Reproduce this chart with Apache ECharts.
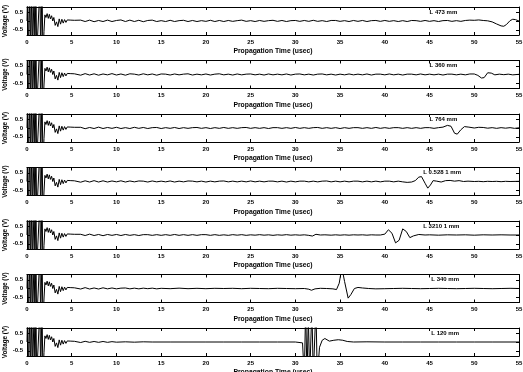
<!DOCTYPE html>
<html>
<head>
<meta charset="utf-8">
<script src="https://cdn.jsdelivr.net/npm/echarts@6/dist/echarts.min.js"></script>
<style>
html,body{margin:0;padding:0;background:#fff;}
#chart{width:523px;height:372px;}
</style>
</head>
<body>
<div id="chart"></div>
<script>
// Axis ticks and labels
const timeTicks = [0, 5, 10, 15, 20, 25, 30, 35, 40, 45, 50, 55];
const voltTicks = [-0.5, 0, 0.5];
const panelNotes = ['L 473 mm', 'L 360 mm', 'L 764 mm', 'L 0.528 1 mm', 'L 3210 1 mm', 'L 340 mm', 'L 120 mm'];

// Excitation burst recorded at the start of every trace (clipped by the plot box)
const burst = [[0,0],[0.08,2],[0.16,-2],[0.33,2],[0.4,-2],[0.55,2],[0.62,-2],[0.8,2],[0.88,-2],[1.0,2],[1.08,-2],
  [1.45,2],[1.52,-2],[1.68,2],[1.78,-2],[1.9,-0.6],[2.0,0.35],[2.12,0.2],[2.25,0.42],[2.38,0.15],[2.5,0.38],
  [2.62,0.12],[2.75,0.3],[2.88,0.0],[3.0,0.2],[3.15,-0.25],[3.3,-0.05],[3.45,-0.32],[3.6,0.12],[3.75,-0.18],
  [3.9,0.1],[4.05,-0.12],[4.2,0.08],[4.35,-0.08],[4.5,0.06],[4.7,-0.05],[4.9,0.05],[5.1,-0.04],[5.3,0.04]];

// Remainder of each trace: noise floor plus the received echo
const trace1 = [[5.5,-0.03],[6,0.05],[6.5,-0.03],[7,0.05],[7.5,-0.04],[8,0.03],[8.5,-0.03],[9,0.05],[9.5,-0.03],[10,0.03],
  [10.5,0.06],[11,-0.03],[11.5,0.05],[12,-0.03],[12.5,0.04],[13,-0.04],[13.5,0.03],[14,0.05],[14.5,-0.03],[15,0.02],
  [15.5,-0.03],[16,0.04],[16.5,-0.03],[17,0.02],[17.5,0.04],[18,-0.03],[18.5,0.03],[19,-0.03],[19.5,0.02],[20,-0.02],
  [20.5,0.04],[21,-0.03],[21.5,0.03],[22,-0.03],[22.5,0.03],[23,-0.02],[23.5,0.02],[24,0.05],[24.5,-0.02],[25,0.02],
  [25.5,-0.03],[26,0.03],[26.5,-0.02],[27,0.02],[27.5,0.04],[28,-0.02],[28.5,0.03],[29,-0.03],[29.5,0.02],[30,0.03],
  [30.5,-0.02],[31,0.03],[31.5,-0.02],[32,0.04],[32.5,-0.02],[33,0.02],[33.5,-0.03],[34,0.03],[34.5,0.03],[35,-0.02],
  [35.5,0.02],[36,-0.03],[36.5,0.03],[37,-0.02],[37.5,0.03],[38,-0.03],[38.5,0.02],[39,0.03],[39.5,-0.02],[40,0.03],
  [40.5,-0.02],[41,0.02],[41.5,-0.03],[42,0.02],[42.5,-0.03],[43,0.03],[43.5,0.02],[44,-0.02],[44.5,0.03],[45,-0.02],
  [45.5,0.02],[46,-0.03],[46.5,0.02],[47,0.03],[47.5,-0.02],[48,0.02],[48.5,-0.02],[49,0.03],[49.5,0.05],[50,0.04],
  [50.5,0.06],[51,0.03],[51.5,0.01],[52,-0.05],[52.5,-0.17],[53,-0.28],[53.3,-0.3],[53.6,-0.2],[54,0.02],[54.3,0.1],
  [54.6,0.08],[55,0.0]];
const trace2 = [[5.5,0.04],[6,-0.04],[6.5,0.05],[7,-0.03],[7.5,0.04],[8,-0.04],[8.5,0.03],[9,-0.02],[9.5,0.05],[10,-0.03],
  [10.5,0.03],[11,-0.04],[11.5,0.04],[12,0.02],[12.5,-0.03],[13,0.04],[13.5,-0.02],[14,0.03],[14.5,-0.04],[15,0.03],
  [15.5,0.02],[16,-0.03],[16.5,0.03],[17,-0.02],[17.5,0.02],[18,0.04],[18.5,-0.03],[19,0.02],[19.5,-0.02],[20,0.03],
  [20.5,-0.03],[21,0.02],[21.5,0.04],[22,-0.02],[22.5,0.02],[23,-0.03],[23.5,0.03],[24,-0.02],[24.5,0.02],[25,0.03],
  [25.5,-0.02],[26,0.02],[26.5,-0.03],[27,0.03],[27.5,-0.02],[28,0.02],[28.5,-0.02],[29,0.03],[29.5,-0.03],[30,0.02],
  [30.5,0.03],[31,-0.02],[31.5,0.02],[32,-0.03],[32.5,0.02],[33,0.03],[33.5,-0.02],[34,0.02],[34.5,-0.03],[35,0.02],
  [35.5,-0.02],[36,0.03],[36.5,-0.02],[37,0.02],[37.5,-0.02],[38,0.03],[38.5,-0.03],[39,0.02],[39.5,0.02],[40,-0.02],
  [40.5,0.03],[41,-0.02],[41.5,0.02],[42,-0.03],[42.5,0.02],[43,0.02],[43.5,-0.02],[44,0.03],[44.5,-0.02],[45,0.02],
  [45.5,-0.02],[46,0.02],[46.5,-0.03],[47,0.02],[47.5,0.02],[48,-0.02],[48.5,0.02],[49,-0.02],[49.5,0.03],[50,0.03],
  [50.4,-0.05],[50.8,-0.2],[51.1,-0.18],[51.5,0.1],[51.9,0.08],[52.3,-0.02],[52.8,0.02],[53.3,-0.01],[53.8,0.02],
  [54.3,-0.02],[55,0.01]];
const trace3 = [[5.5,-0.04],[6,0.04],[6.5,-0.04],[7,0.03],[7.5,-0.03],[8,0.05],[8.5,-0.03],[9,0.03],[9.5,-0.02],[10,0.04],
  [10.5,-0.03],[11,0.02],[11.5,-0.03],[12,0.04],[12.5,-0.02],[13,0.03],[13.5,-0.03],[14,0.02],[14.5,0.03],[15,-0.03],
  [15.5,0.02],[16,-0.02],[16.5,0.03],[17,-0.03],[17.5,0.02],[18,-0.02],[18.5,0.02],[19,0.03],[19.5,-0.02],[20,0.02],
  [20.5,-0.03],[21,0.02],[21.5,-0.02],[22,0.03],[22.5,-0.02],[23,0.02],[23.5,-0.02],[24,0.02],[24.5,0.03],[25,-0.02],
  [25.5,0.02],[26,-0.02],[26.5,0.02],[27,-0.03],[27.5,0.02],[28,0.02],[28.5,-0.02],[29,0.02],[29.5,-0.02],[30,0.03],
  [30.5,-0.02],[31,0.02],[31.5,-0.02],[32,0.02],[32.5,0.03],[33,-0.02],[33.5,0.02],[34,-0.02],[34.5,0.02],[35,-0.03],
  [35.5,0.02],[36,-0.02],[36.5,0.02],[37,0.02],[37.5,-0.02],[38,0.02],[38.5,-0.02],[39,0.03],[39.5,-0.02],[40,0.02],
  [40.5,-0.02],[41,0.02],[41.5,0.02],[42,-0.02],[42.5,0.02],[43,-0.02],[43.5,0.02],[44,-0.02],[44.5,0.02],[45,0.02],
  [45.5,-0.02],[46,0.02],[46.5,0.05],[47,0.15],[47.4,0.1],[47.8,-0.3],[48.1,-0.35],[48.5,-0.1],[48.9,0.08],[49.4,0.05],
  [50,0.0],[50.5,0.04],[51,0.03],[51.5,-0.01],[52,0.02],[52.5,-0.02],[53,0.02],[53.5,-0.01],[54,0.02],[54.5,-0.02],[55,0.01]];
const trace4 = [[5.5,0.03],[6,-0.04],[6.5,0.04],[7,-0.03],[7.5,0.05],[8,-0.03],[8.5,0.04],[9,-0.03],[9.5,0.03],[10,-0.02],
  [10.5,0.04],[11,-0.03],[11.5,0.03],[12,-0.02],[12.5,0.03],[13,0.02],[13.5,-0.03],[14,0.03],[14.5,-0.02],[15,0.02],
  [15.5,-0.02],[16,0.03],[16.5,-0.03],[17,0.02],[17.5,-0.02],[18,0.03],[18.5,0.02],[19,-0.02],[19.5,0.02],[20,-0.03],
  [20.5,0.02],[21,-0.02],[21.5,0.02],[22,0.03],[22.5,-0.02],[23,0.02],[23.5,-0.02],[24,0.02],[24.5,-0.02],[25,0.03],
  [25.5,-0.02],[26,0.02],[26.5,-0.02],[27,0.02],[27.5,0.02],[28,-0.02],[28.5,0.02],[29,-0.03],[29.5,0.02],[30,-0.02],
  [30.5,0.02],[31,0.02],[31.5,-0.02],[32,0.02],[32.5,-0.02],[33,0.02],[33.5,0.03],[34,-0.02],[34.5,0.02],[35,-0.02],
  [35.5,0.02],[36,-0.02],[36.5,0.02],[37,0.02],[37.5,-0.02],[38,0.02],[38.5,-0.02],[39,0.02],[39.5,-0.02],[40,0.02],
  [40.5,0.02],[41,-0.02],[41.5,0.02],[42,-0.02],[42.5,-0.05],[43,-0.03],[43.4,0.05],[43.8,0.25],[44.1,0.28],[44.5,-0.1],
  [44.8,-0.38],[45.1,-0.2],[45.4,0.05],[45.8,0.02],[46.3,-0.03],[46.8,0.05],[47.3,0.06],[47.8,0.02],[48.3,0.05],[48.8,0.0],
  [49.3,0.02],[50,0.0],[50.5,0.01],[51,-0.01],[51.5,0.01],[52,0.0],[52.5,0.01],[53,-0.01],[53.5,0.01],[54,0.0],[55,0.01]];
const trace5 = [[5.5,-0.03],[6,0.04],[6.5,-0.03],[7,0.05],[7.5,-0.03],[8,0.03],[8.5,-0.04],[9,0.03],[9.5,-0.02],[10,0.03],
  [10.5,-0.03],[11,0.03],[11.5,-0.02],[12,0.02],[12.5,-0.03],[13,0.02],[13.5,0.02],[14,-0.02],[14.5,0.02],[15,-0.02],
  [15.5,0.02],[16,-0.02],[16.5,0.03],[17,-0.02],[17.5,0.02],[18,-0.02],[18.5,0.02],[19,-0.02],[19.5,0.02],[20,0.02],
  [20.5,-0.02],[21,0.02],[21.5,-0.02],[22,0.01],[22.5,-0.02],[23,0.02],[23.5,-0.01],[24,0.02],[24.5,-0.02],[25,0.01],
  [25.5,-0.01],[26,0.02],[26.5,-0.01],[27,0.01],[27.5,-0.02],[28,0.01],[28.5,-0.01],[29,0.02],[29.5,-0.01],[30,0.01],
  [30.5,-0.01],[31,0.01],[31.5,-0.02],[31.9,-0.06],[32.3,0.04],[32.8,0.0],[33.3,0.01],[34,-0.01],[34.5,0.01],[35,-0.01],
  [35.5,0.01],[36,-0.01],[36.5,0.01],[37,0.0],[37.5,0.01],[38,-0.01],[38.5,0.01],[39,0.0],[39.5,0.0],[40,0.05],
  [40.4,0.3],[40.8,0.1],[41.2,-0.45],[41.6,-0.3],[42.0,0.35],[42.4,0.2],[42.8,-0.15],[43.2,-0.05],[43.8,0.03],[44.5,0.0],
  [45,0.01],[46,-0.01],[47,0.01],[48,0.0],[49,0.01],[50,-0.01],[51,0.01],[52,0.0],[53,0.01],[54,0.0],[55,0.0]];
const trace6 = [[5.5,0.04],[6,-0.03],[6.5,0.05],[7,-0.03],[7.5,0.03],[8,-0.03],[8.5,0.04],[9,-0.02],[9.5,0.03],[10,-0.02],
  [10.5,0.02],[11,0.03],[11.5,-0.02],[12,0.02],[12.5,-0.02],[13,0.02],[13.5,-0.01],[14,0.02],[14.5,-0.02],[15,0.01],
  [16,-0.01],[17,0.02],[18,-0.01],[19,0.01],[20,-0.01],[21,0.01],[22,0.0],[23,0.01],[24,-0.01],[25,0.01],
  [26,0.0],[27,-0.01],[28,0.01],[29,0.0],[30,-0.01],[31,0.0],[31.5,-0.04],[31.8,-0.1],[32.2,-0.02],[32.8,0.01],
  [33.5,0.0],[34.2,-0.02],[34.6,-0.06],[34.9,0.3],[35.2,1.2],[35.5,0.4],[35.9,-0.55],[36.2,-0.35],[36.6,0.0],[37.0,0.06],
  [37.5,0.03],[38.2,0.0],[39,-0.02],[40,-0.01],[41,0.0],[42,0.01],[43,0.0],[44,-0.01],[45,0.0],[46,0.01],
  [47,0.0],[48,-0.01],[49,0.0],[50,0.01],[51,0.0],[52,-0.01],[53,0.0],[54,0.01],[55,0.0]];
const trace7 = [[5.5,0.04],[6,-0.03],[6.5,0.04],[7,-0.02],[7.5,0.03],[8,-0.02],[8.5,0.03],[9,-0.02],[9.5,0.02],[10,-0.01],
  [11,0.01],[12,-0.01],[13,0.01],[14,0.0],[16,0.0],[18,0.0],[20,0.0],[22,0.0],[24,0.0],[26,0.0],[28,0.0],[30,0.0],
  [30.8,-0.05],[31.0,-2],[31.15,2],[31.3,-2],[31.45,1.5],[31.6,-2],[31.85,2],[32.0,-2],[32.3,2],[32.45,-2],
  [32.7,-0.3],[33.0,0.1],[33.3,0.2],[33.8,0.05],[34.3,0.1],[34.8,0.13],[35.3,0.1],[35.8,0.03],[36.5,0.0],[38,0.01],
  [40,0.0],[42,0.0],[44,0.0],[46,0.0],[48,0.0],[50,0.0],[52,0.0],[55,0.0]];

const traces = [trace1, trace2, trace3, trace4, trace5, trace6, trace7];
const noteTimes = [45, 45, 45, 44.3, 44.3, 45.2, 45.2];

const chart = echarts.init(document.getElementById('chart'), null, {renderer: 'canvas'});
const FONT = 'Liberation Sans';
const grids = [], xAxes = [], yAxes = [], series = [];
const labelStyle = {fontFamily: FONT, fontWeight: 'bold', fontSize: 6, color: '#000'};
const nameStyle = {fontFamily: FONT, fontWeight: 'bold', fontSize: 6.8, color: '#000'};
const lineStyle = {color: '#000', width: 1};

traces.forEach((tr, i) => {
  grids.push({left: 27, right: 4, top: 7 + 53.5 * i, height: 28,
    containLabel: false, outerBoundsMode: 'none'});
  // bottom axis with labels and name
  xAxes.push({
    type: 'value', gridIndex: i, min: 0, max: 55, interval: 5, position: 'bottom',
    axisLine: {onZero: false, lineStyle: lineStyle},
    axisTick: {inside: true, length: 3, lineStyle: lineStyle},
    axisLabel: Object.assign({margin: 4, customValues: timeTicks}, labelStyle),
    splitLine: {show: false},
    name: 'Propagation Time (usec)', nameLocation: 'middle', nameGap: 13, nameMoveOverlap: false,
    nameTextStyle: Object.assign({}, nameStyle)
  });
  // top axis closes the box
  xAxes.push({
    type: 'value', gridIndex: i, min: 0, max: 55, interval: 5, position: 'top',
    axisLine: {onZero: false, lineStyle: lineStyle},
    axisTick: {inside: true, length: 3, lineStyle: lineStyle},
    axisLabel: {show: false}, splitLine: {show: false}
  });
  yAxes.push({
    type: 'value', gridIndex: i, min: -0.8, max: 0.8, position: 'left',
    axisLine: {onZero: false, lineStyle: lineStyle},
    axisTick: {inside: true, length: 3, customValues: voltTicks, lineStyle: lineStyle},
    axisLabel: Object.assign({margin: 4, customValues: voltTicks,
      formatter: v => (v === 0 ? '0' : String(v))}, labelStyle),
    splitLine: {show: false},
    name: 'Voltage (V)', nameLocation: 'middle', nameGap: 19, nameRotate: 90, nameMoveOverlap: false,
    nameTextStyle: Object.assign({}, nameStyle, {fontSize: 6.3})
  });
  yAxes.push({
    type: 'value', gridIndex: i, min: -0.8, max: 0.8, position: 'right',
    axisLine: {onZero: false, lineStyle: lineStyle},
    axisTick: {inside: true, length: 3, customValues: voltTicks, lineStyle: lineStyle},
    axisLabel: {show: false}, splitLine: {show: false}
  });
  series.push({
    type: 'line', xAxisIndex: 2 * i, yAxisIndex: 2 * i,
    data: burst.concat(tr), showSymbol: false, symbol: 'none', clip: true,
    lineStyle: {color: '#000', width: 1}, animation: false,
    markPoint: {
      symbol: 'rect', symbolSize: 0, silent: true,
      label: Object.assign({show: true, position: 'right', distance: 0,
        formatter: panelNotes[i]}, labelStyle),
      data: [{coord: [noteTimes[i], 0.5]}]
    }
  });
});

chart.setOption({
  animation: false,
  backgroundColor: '#fff',
  grid: grids, xAxis: xAxes, yAxis: yAxes, series: series
});
</script>
</body>
</html>
